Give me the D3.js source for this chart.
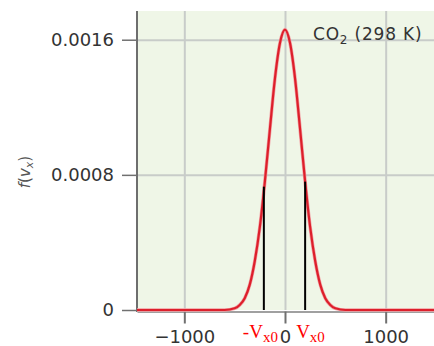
<!DOCTYPE html>
<html>
<head>
<meta charset="utf-8">
<script src="https://cdn.jsdelivr.net/npm/d3@7"></script>
<style>
  body { margin: 0; background: #fff; }
  svg { display: block; }
  .tick text { font-family: 'DejaVu Sans', sans-serif; font-size: 18px; fill: #333; }
</style>
</head>
<body>
<svg id="chart" width="434" height="346"></svg>
<script>
// velocity component v_x (m/s) and the density f(v_x)
var velocity = [-1470, -1000, -800, -600, -500, -450, -400, -350, -300, -250, -200, -150, -100, -50,
  0, 50, 100, 150, 200, 250, 300, 350, 400, 450, 500, 600, 800, 1000, 1480];
var density = [0, 0, 0, 0, 0.00001, 0.00003, 0.00007, 0.00015, 0.00029, 0.00049, 0.00076, 0.00107, 0.00137, 0.00158,
  0.00166, 0.00158, 0.00137, 0.00107, 0.00076, 0.00049, 0.00029, 0.00015, 0.00007, 0.00003, 0.00001, 0, 0, 0, 0];

var xTicks = [-1000, 0, 1000];
var yTicks = [0, 0.0008, 0.0016];

// the two marked speeds -v_x0 and v_x0, and where their lines meet the curve
var markerX = [-210, 200];
var markerTop = [0.00073, 0.00076];
var markerLabel = ['-V', 'V'];

var svg = d3.select('#chart');
var margin = { left: 137, top: 11, right: 0, bottom: 36 };
var width = 434 - margin.left - margin.right;
var height = 346 - margin.top - margin.bottom;

var x = d3.scaleLinear().domain([-1470, 1480]).range([0, width]);
var y = d3.scaleLinear().domain([0, 0.00177]).range([height, 0]);

var g = svg.append('g').attr('transform', 'translate(' + margin.left + ',' + margin.top + ')');

g.append('rect')
  .attr('width', width)
  .attr('height', height)
  .attr('fill', '#eff6e7');

// grid
var gridX = g.append('g')
  .attr('transform', 'translate(0,' + height + ')')
  .call(d3.axisBottom(x).tickValues(xTicks).tickSize(-height).tickFormat(''));
var gridY = g.append('g')
  .call(d3.axisLeft(y).tickValues(yTicks.slice(1)).tickSize(-width).tickFormat(''));
[gridX, gridY].forEach(function (grid) {
  grid.select('.domain').remove();
  grid.selectAll('line').attr('stroke', '#c8ccc9').attr('stroke-width', 2);
});

// axes
var xAxis = g.append('g')
  .attr('transform', 'translate(0,' + (height + 1.5) + ')')
  .call(d3.axisBottom(x).tickValues(xTicks).tickSize(12).tickSizeOuter(0).tickPadding(7).tickFormat(d3.format('d')));
xAxis.select('.domain').attr('stroke', '#808080').attr('stroke-width', 1.5);
xAxis.selectAll('.tick line').attr('stroke', '#707070').attr('stroke-width', 2);

var yAxis = g.append('g')
  .call(d3.axisLeft(y).tickValues(yTicks).tickSize(15).tickPadding(8).tickSizeOuter(0)
    .tickFormat(function (d) { return d === 0 ? '0' : d3.format('.4f')(d); }));
yAxis.select('.domain').attr('stroke', '#6e6e6e').attr('stroke-width', 2)
  .attr('d', 'M0,0V' + (height + 2));
yAxis.selectAll('.tick line').attr('stroke', '#707070').attr('stroke-width', 1.5);

// curve
var line = d3.line()
  .x(function (d, i) { return x(velocity[i]); })
  .y(function (d) { return y(d); })
  .curve(d3.curveMonotoneX);

g.append('path')
  .datum(density)
  .attr('fill', 'none')
  .attr('stroke', '#f2a0a4')
  .attr('stroke-width', 3.5)
  .attr('d', line);
g.append('path')
  .datum(density)
  .attr('fill', 'none')
  .attr('stroke', '#dd1f2b')
  .attr('stroke-width', 2.2)
  .attr('d', line);

// marker lines
g.selectAll('.marker')
  .data(markerX)
  .enter().append('line')
  .attr('class', 'marker')
  .attr('x1', function (d) { return x(d); })
  .attr('x2', function (d) { return x(d); })
  .attr('y1', y(0))
  .attr('y2', function (d, i) { return y(markerTop[i]); })
  .attr('stroke', '#000')
  .attr('stroke-width', 2);

var labels = g.selectAll('.marker-label')
  .data(markerX)
  .enter().append('text')
  .attr('class', 'marker-label')
  .attr('x', function (d, i) { return x(d) + (i === 0 ? -21 : -9); })
  .attr('y', height + 28)
  .attr('font-family', "'Liberation Serif', serif")
  .attr('font-size', 19)
  .attr('fill', '#f00');
labels.append('tspan').text(function (d, i) { return markerLabel[i]; });
labels.append('tspan').attr('font-size', 15).attr('dy', 4).text('x0');

// series label
var co2 = g.append('text')
  .attr('x', 176)
  .attr('y', y(0.0016))
  .attr('font-family', "'DejaVu Sans', sans-serif")
  .attr('font-size', 17)
  .attr('letter-spacing', 0.8)
  .attr('fill', '#333');
co2.append('tspan').text('CO');
co2.append('tspan').attr('font-size', 12).attr('dy', 4).text('2');
co2.append('tspan').attr('dy', -4).text(' (298 K)');

// y axis title
var yTitle = svg.append('text')
  .attr('transform', 'translate(30,172) rotate(-90)')
  .attr('text-anchor', 'middle')
  .attr('font-family', "'DejaVu Sans', sans-serif")
  .attr('font-size', 15)
  .attr('fill', '#555');
yTitle.append('tspan').attr('font-style', 'italic').text('f');
yTitle.append('tspan').text('(');
yTitle.append('tspan').attr('font-style', 'italic').text('v');
yTitle.append('tspan').attr('font-style', 'italic').attr('font-size', 11).attr('dy', 3).text('x');
yTitle.append('tspan').attr('dy', -3).text(')');
</script>
</body>
</html>
